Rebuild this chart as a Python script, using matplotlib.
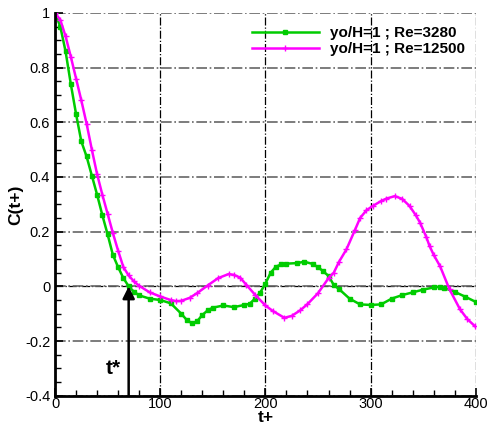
import numpy as np
import matplotlib.pyplot as plt
from matplotlib.ticker import MultipleLocator

plt.rcParams['font.family'] = ['Liberation Sans', 'DejaVu Sans']

# C(t+) for yo/H=1, Re=3280 (green)
t_3280 = [0, 5, 10, 15, 20, 25, 30, 35, 40, 45, 50, 55, 60, 65, 70, 75, 80, 90,
          100, 110, 120, 125, 130, 135, 140, 145, 150, 160, 170, 180, 185, 190,
          195, 200, 205, 210, 215, 220, 230, 237, 245, 250, 255, 260, 265, 270,
          280, 290, 300, 310, 320, 330, 340, 350, 360, 366, 370, 380, 390, 400]
c_3280 = [1.0, 0.95, 0.86, 0.74, 0.63, 0.53, 0.475, 0.405, 0.335, 0.26, 0.19,
          0.115, 0.07, 0.03, 0.0, -0.02, -0.033, -0.045, -0.05, -0.062, -0.1,
          -0.122, -0.135, -0.128, -0.105, -0.088, -0.078, -0.07, -0.076, -0.068,
          -0.064, -0.045, -0.023, 0.01, 0.05, 0.072, 0.08, 0.083, 0.085, 0.09,
          0.082, 0.07, 0.055, 0.038, 0.005, -0.01, -0.045, -0.066, -0.068,
          -0.066, -0.045, -0.032, -0.022, -0.012, -0.004, -0.001, -0.006, -0.02,
          -0.038, -0.057]

# C(t+) for yo/H=1, Re=12500 (magenta)
t_12500 = [0, 5, 10, 15, 20, 25, 30, 35, 40, 45, 50, 55, 60, 65, 70, 75, 80, 90,
           100, 110, 115, 120, 128, 135, 145, 155, 165, 170, 176, 182, 190, 200,
           207, 218, 225, 233, 240, 250, 260, 265, 270, 277, 285, 290, 296, 302,
           310, 315, 323, 330, 337, 343, 347, 353, 356, 360, 366, 375, 385, 392, 399]
c_12500 = [1.0, 0.975, 0.915, 0.84, 0.76, 0.68, 0.595, 0.5, 0.41, 0.335, 0.265,
           0.195, 0.13, 0.07, 0.04, 0.018, 0.002, -0.022, -0.037, -0.05, -0.054,
           -0.053, -0.042, -0.025, 0.003, 0.03, 0.045, 0.042, 0.032, 0.005, -0.03,
           -0.07, -0.09, -0.115, -0.108, -0.088, -0.065, -0.025, 0.03, 0.05, 0.09,
           0.135, 0.205, 0.25, 0.278, 0.294, 0.312, 0.321, 0.33, 0.32, 0.294, 0.26,
           0.233, 0.18, 0.148, 0.115, 0.074, -0.011, -0.084, -0.12, -0.145]

t_star = 70

fig = plt.figure(figsize=(4.87, 4.32), dpi=100)
ax = fig.add_axes([0.113, 0.084, 0.864, 0.886])

ax.plot(t_3280, c_3280, color='#00cc00', lw=1.8, marker='s', ms=3,
        label='yo/H=1 ; Re=3280')
ax.plot(t_12500, c_12500, color='#ff00ff', lw=1.8, marker='+', ms=4, mew=1,
        label='yo/H=1 ; Re=12500')

ax.annotate('', xy=(t_star, 0), xytext=(t_star, -0.4),
            arrowprops=dict(arrowstyle='-|>', color='black', lw=1.8,
                            mutation_scale=18, shrinkA=0, shrinkB=0))
ax.text(t_star - 7, -0.3, 't*', fontsize=15, fontweight='bold',
        ha='right', va='center')

ax.set_xlim(0, 400)
ax.set_ylim(-0.4, 1)
ax.xaxis.set_major_locator(MultipleLocator(100))
ax.xaxis.set_minor_locator(MultipleLocator(20))
ax.yaxis.set_major_locator(MultipleLocator(0.2))
ax.yaxis.set_minor_locator(MultipleLocator(0.05))
ax.set_yticks([-0.4, -0.2, 0, 0.2, 0.4, 0.6, 0.8, 1])
ax.set_yticklabels(['-0.4', '-0.2', '0', '0.2', '0.4', '0.6', '0.8', '1'])

ax.tick_params(which='major', direction='in', length=6, width=1.2, labelsize=10.5)
ax.tick_params(which='minor', direction='in', length=4, width=1)
ax.tick_params(axis='x', pad=1)

for s in ['top', 'right']:
    ax.spines[s].set_visible(False)
for s in ['left', 'bottom']:
    ax.spines[s].set_linewidth(2)

ax.grid(True, axis='y', which='major', color='#666666', ls='-.', lw=1.2)
ax.grid(True, axis='x', which='major', color='black', ls='-.', lw=0.9)
ax.axhline(0, color='black', ls='-.', lw=0.9, zorder=0.5)

ax.set_xlabel('t+', fontsize=12.5, fontweight='bold', labelpad=-1)
ax.set_ylabel('C(t+)', fontsize=12.5, fontweight='bold', labelpad=1)

leg = ax.legend(loc='upper right', bbox_to_anchor=(0.995, 0.99), frameon=False,
                prop={'weight': 'bold', 'size': 11},
                handlelength=4.4, markerscale=1, handletextpad=0.7,
                labelspacing=0.15, borderaxespad=0.2)

fig.savefig('out.png', dpi=100)
